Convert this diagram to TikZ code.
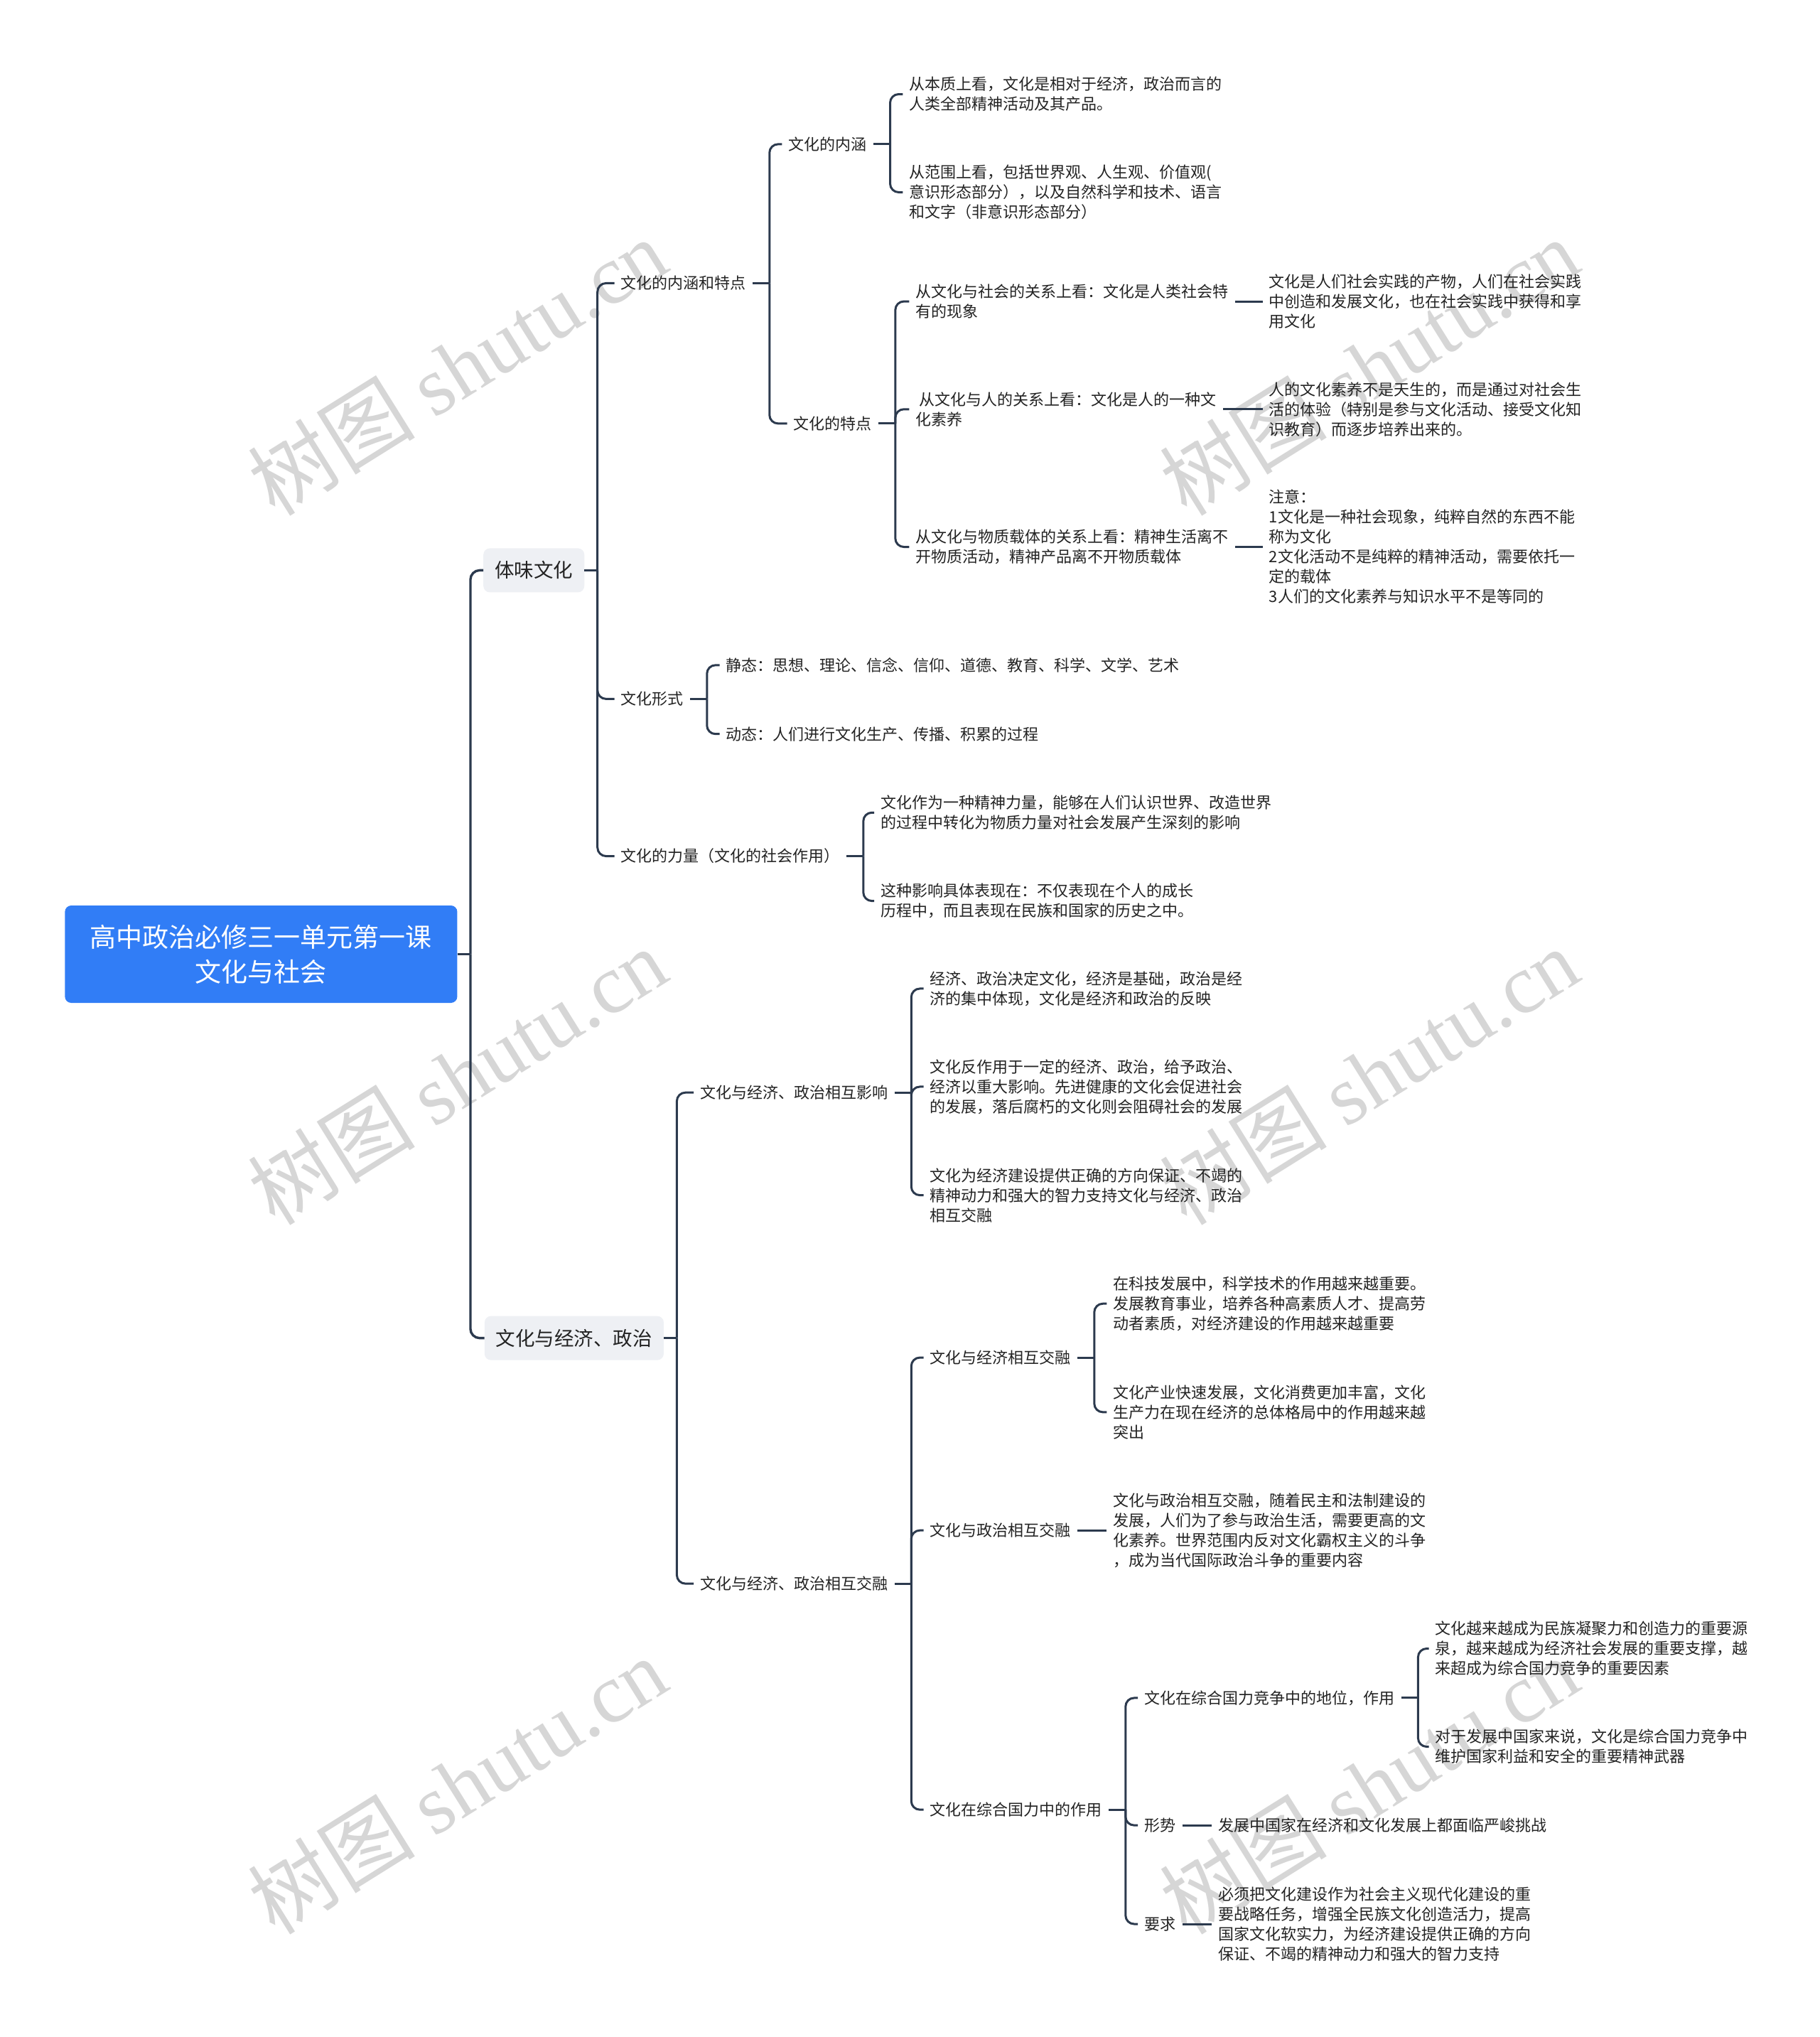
\documentclass[tikz,border=0pt]{standalone}
\usepackage{fontspec}
\setmainfont{Noto Sans CJK SC}
\newfontfamily\wmfont{Liberation Serif}
\usetikzlibrary{calc}
\definecolor{linec}{RGB}{44,58,78}
\definecolor{rootc}{RGB}{49,125,246}
\definecolor{boxc}{RGB}{238,240,244}
\definecolor{txtc}{RGB}{35,35,35}
\definecolor{wmc}{RGB}{214,214,214}
\begin{document}
\begin{tikzpicture}[x=1.8273pt, y=-1.8273pt,
  leaf/.style={anchor=west, inner xsep=9pt, inner ysep=3pt, align=left, text=txtc, font=\fontsize{22}{28}\selectfont},
  conn/.style={draw=linec, line width=3pt, rounded corners=12pt},
  lone/.style={draw=linec, line width=3.4pt, rounded corners=13pt},
  topic/.style={fill=boxc, rounded corners=9pt, minimum height=62pt, inner xsep=16pt, text=txtc, font=\fontsize{27.5}{33}\selectfont},
  rootbox/.style={fill=rootc, rounded corners=9pt, minimum width=552pt, minimum height=137pt, align=center, text=white, font=\fontsize{37}{49}\selectfont},
  wm/.style={text=wmc, rotate=32, font=\fontsize{118}{120}\selectfont}
]
\useasboundingbox (0,0) rectangle (1401,1568);
% watermarks
\foreach \wx/\wy [count=\i] in {352/282,1054/282,352/828,1054/828,352/1374,1054/1374}
  \node[wm] (wm\i) at (\wx,\wy) {树图 {\wmfont shutu.cn}};

% root and level 1
\node[rootbox] (root) at (201,734.5) {高中政治必修三一单元第一课\\文化与社会};
\node[topic] (tw) at (411,439) {体味文化};
\node[topic] (jz) at (442,1030) {文化与经济、政治};

% level 2 under 体味文化
\node[leaf] (nh) at (473,218) {文化的内涵和特点};
\node[leaf] (xs) at (473,538) {文化形式};
\node[leaf] (ll) at (473,659) {文化的力量（文化的社会作用）};

\node[leaf] (nei) at (602,111) {文化的内涵};
\node[leaf] (td) at (606,326) {文化的特点};

\node[leaf] (a1) at (695,72.5) {从本质上看，文化是相对于经济，政治而言的\\人类全部精神活动及其产品。};
\node[leaf] (a2) at (695,148) {从范围上看，包括世界观、人生观、价值观(\\意识形态部分），以及自然科学和技术、语言\\和文字（非意识形态部分）};

\node[leaf] (b1) at (700,232) {从文化与社会的关系上看：文化是人类社会特\\有的现象};
\node[leaf] (b2) at (700,315) {\hspace*{5pt}从文化与人的关系上看：文化是人的一种文\\化素养};
\node[leaf] (b3) at (700,421) {从文化与物质载体的关系上看：精神生活离不\\开物质活动，精神产品离不开物质载体};

\node[leaf] (b1r) at (972,232) {文化是人们社会实践的产物，人们在社会实践\\中创造和发展文化，也在社会实践中获得和享\\用文化};
\node[leaf] (b2r) at (972,315) {人的文化素养不是天生的，而是通过对社会生\\活的体验（特别是参与文化活动、接受文化知\\识教育）而逐步培养出来的。};
\node[leaf] (b3r) at (972,421) {注意：\\1文化是一种社会现象，纯粹自然的东西不能\\称为文化\\2文化活动不是纯粹的精神活动，需要依托一\\定的载体\\3人们的文化素养与知识水平不是等同的};

\node[leaf] (jt) at (554,512) {静态：思想、理论、信念、信仰、道德、教育、科学、文学、艺术};
\node[leaf] (dt) at (554,565) {动态：人们进行文化生产、传播、积累的过程};

\node[leaf] (c1) at (673,625.5) {文化作为一种精神力量，能够在人们认识世界、改造世界\\的过程中转化为物质力量对社会发展产生深刻的影响};
\node[leaf] (c2) at (673,693.5) {这种影响具体表现在：不仅表现在个人的成长\\历程中，而且表现在民族和国家的历史之中。};

% level 2 under 文化与经济、政治
\node[leaf] (yx) at (534,841) {文化与经济、政治相互影响};
\node[leaf] (jr) at (534,1219) {文化与经济、政治相互交融};

\node[leaf] (d1) at (711,761) {经济、政治决定文化，经济是基础，政治是经\\济的集中体现，文化是经济和政治的反映};
\node[leaf] (d2) at (711,836.5) {文化反作用于一定的经济、政治，给予政治、\\经济以重大影响。先进健康的文化会促进社会\\的发展，落后腐朽的文化则会阻碍社会的发展};
\node[leaf] (d3) at (711,920) {文化为经济建设提供正确的方向保证、不竭的\\精神动力和强大的智力支持文化与经济、政治\\相互交融};

\node[leaf] (ej) at (711,1045) {文化与经济相互交融};
\node[leaf] (zz) at (711,1178) {文化与政治相互交融};
\node[leaf] (zh) at (711,1393) {文化在综合国力中的作用};

\node[leaf] (e1) at (852,1003.5) {在科技发展中，科学技术的作用越来越重要。\\发展教育事业，培养各种高素质人才、提高劳\\动者素质，对经济建设的作用越来越重要};
\node[leaf] (e2) at (852,1087) {文化产业快速发展，文化消费更加丰富，文化\\生产力在现在经济的总体格局中的作用越来越\\突出};
\node[leaf] (f1) at (852,1178) {文化与政治相互交融，随着民主和法制建设的\\发展，人们为了参与政治生活，需要更高的文\\化素养。世界范围内反对文化霸权主义的斗争\\，成为当代国际政治斗争的重要内容};

\node[leaf] (dw) at (876,1307) {文化在综合国力竞争中的地位，作用};
\node[leaf] (xsh) at (876,1405) {形势};
\node[leaf] (yq) at (876,1481) {要求};

\node[leaf] (g1) at (1100,1269) {文化越来越成为民族凝聚力和创造力的重要源\\泉，越来越成为经济社会发展的重要支撑，越\\来超成为综合国力竞争的重要因素};
\node[leaf] (g2) at (1100,1344.5) {对于发展中国家来说，文化是综合国力竞争中\\维护国家利益和安全的重要精神武器};
\node[leaf] (h1) at (933,1405) {发展中国家在经济和文化发展上都面临严峻挑战};
\node[leaf] (i1) at (933,1481) {必须把文化建设作为社会主义现代化建设的重\\要战略任务，增强全民族文化创造活力，提高\\国家文化软实力，为经济建设提供正确的方向\\保证、不竭的精神动力和强大的智力支持};

% junctions
\coordinate (t0) at ($(root.east)+(10,0)$);
\coordinate (t1) at ($(tw.east)+(10,0)$);
\coordinate (t2) at ($(jz.east)+(10,0)$);
\coordinate (t3) at ($(nh.east)+(13,0)$);
\coordinate (t4) at ($(nei.east)+(13,0)$);
\coordinate (t5) at ($(td.east)+(13,0)$);
\coordinate (t6) at ($(xs.east)+(13,0)$);
\coordinate (t7) at ($(ll.east)+(13,0)$);
\coordinate (t8) at ($(yx.east)+(13,0)$);
\coordinate (t9) at ($(jr.east)+(13,0)$);
\coordinate (t10) at ($(ej.east)+(13,0)$);
\coordinate (t11) at ($(zh.east)+(13,0)$);
\coordinate (t12) at ($(dw.east)+(13,0)$);

% connectors
\draw[lone] (root.east) -- (t0);
\draw[lone] (t0) |- (tw.west);
\draw[lone] (t0) |- (jz.west);

\draw[conn] (tw.east) -- (t1);
\foreach \c in {nh,xs,ll} \draw[conn] (t1) |- (\c.west);
\draw[conn] (jz.east) -- (t2);
\foreach \c in {yx,jr} \draw[conn] (t2) |- (\c.west);

\draw[conn] (nh.east) -- (t3);
\foreach \c in {nei,td} \draw[conn] (t3) |- (\c.west);
\draw[conn] (nei.east) -- (t4);
\foreach \c in {a1,a2} \draw[conn] (t4) |- (\c.west);
\draw[conn] (td.east) -- (t5);
\foreach \c in {b1,b2,b3} \draw[conn] (t5) |- (\c.west);
\draw[conn] (b1.east) -- (b1r.west);
\draw[conn] (b2.east) -- (b2r.west);
\draw[conn] (b3.east) -- (b3r.west);
\draw[conn] (xs.east) -- (t6);
\foreach \c in {jt,dt} \draw[conn] (t6) |- (\c.west);
\draw[conn] (ll.east) -- (t7);
\foreach \c in {c1,c2} \draw[conn] (t7) |- (\c.west);

\draw[conn] (yx.east) -- (t8);
\foreach \c in {d1,d2,d3} \draw[conn] (t8) |- (\c.west);
\draw[conn] (jr.east) -- (t9);
\foreach \c in {ej,zz,zh} \draw[conn] (t9) |- (\c.west);
\draw[conn] (ej.east) -- (t10);
\foreach \c in {e1,e2} \draw[conn] (t10) |- (\c.west);
\draw[conn] (zz.east) -- (f1.west);
\draw[conn] (zh.east) -- (t11);
\foreach \c in {dw,xsh,yq} \draw[conn] (t11) |- (\c.west);
\draw[conn] (dw.east) -- (t12);
\foreach \c in {g1,g2} \draw[conn] (t12) |- (\c.west);
\draw[conn] (xsh.east) -- (h1.west);
\draw[conn] (yq.east) -- (i1.west);
\end{tikzpicture}
\end{document}
